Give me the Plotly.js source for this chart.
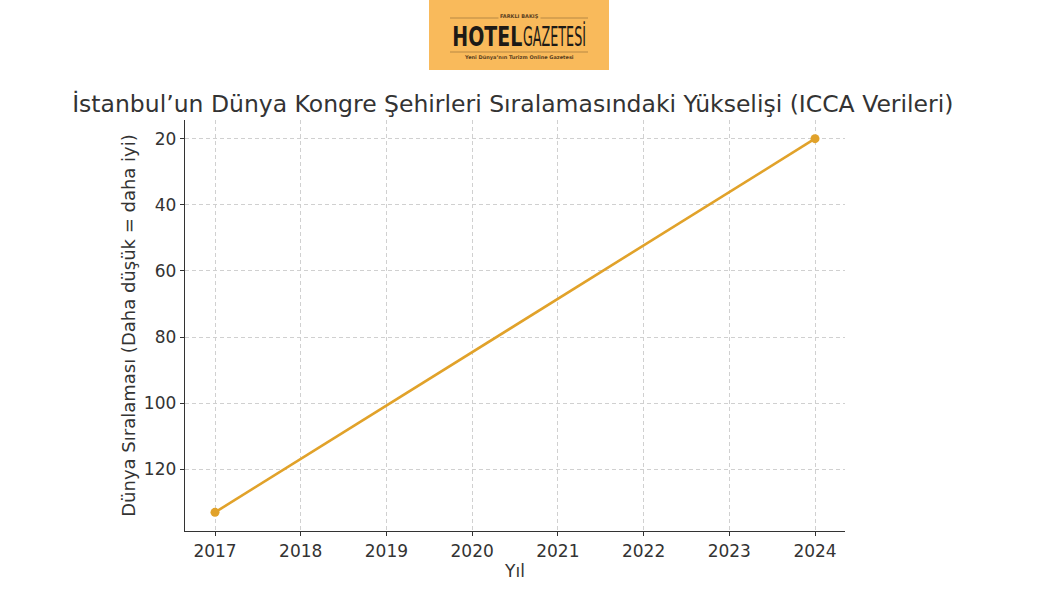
<!DOCTYPE html>
<html><head><meta charset="utf-8">
<script src="https://cdn.plot.ly/plotly-3.0.1.min.js"></script>
<style>html,body{margin:0;padding:0;background:#fff}#chart{width:1038px;height:600px}</style>
</head><body><div id="chart"></div>
<script>
const years = [2017, 2024];
const ranks = [133, 20];
const xTicks = [2017, 2018, 2019, 2020, 2021, 2022, 2023, 2024];
const yTicks = [20, 40, 60, 80, 100, 120];

const font = 'DejaVu Sans, sans-serif';
const narrow = 'Liberation Sans Narrow, DejaVu Sans Condensed, sans-serif';
const px = v => (v - 185) / 660;
const py = v => (531 - v) / 411;
const trace = {
  x: years, y: ranks, type: 'scatter', mode: 'lines+markers',
  line: {color: '#E1A22A', width: 2.6},
  marker: {color: '#E1A22A', size: 9},
  hoverinfo: 'skip'
};
const layout = {
  width: 1038, height: 600,
  margin: {l: 185, r: 193, t: 120, b: 69},
  paper_bgcolor: '#fff', plot_bgcolor: '#fff',
  showlegend: false,
  font: {family: font, color: '#333', size: 17},
  title: {text: 'İstanbul’un Dünya Kongre Şehirleri Sıralamasındaki Yükselişi (ICCA Verileri)',
    font: {family: font, size: 23.5, color: '#333'}, x: 0.494, xanchor: 'center', y: 1 - 104/600, yanchor: 'middle'},
  xaxis: {
    range: [2016.65, 2024.35], tickvals: xTicks, ticktext: xTicks.map(String),
    showgrid: true, gridcolor: '#d0d0d0', griddash: '4px,3px', gridwidth: 1,
    showline: true, linecolor: '#333', linewidth: 1.3, zeroline: false,
    ticks: 'outside', ticklen: 4, tickcolor: '#333',
    tickfont: {size: 17, color: '#333'},
    title: {text: 'Yıl', font: {size: 17, color: '#333'}, standoff: 5}
  },
  yaxis: {
    range: [138.65, 14.35], tickvals: yTicks,
    showgrid: true, gridcolor: '#d0d0d0', griddash: '4px,3px', gridwidth: 1,
    showline: true, linecolor: '#333', linewidth: 1.3, zeroline: false,
    ticks: 'outside', ticklen: 4, tickcolor: '#333',
    tickfont: {size: 17, color: '#333'},
    title: {text: 'Dünya Sıralaması (Daha düşük = daha iyi)', font: {size: 18, color: '#333'}, standoff: 3}
  },
  shapes: [
    {type: 'rect', xref: 'paper', yref: 'paper', x0: px(429), x1: px(609),
      y0: py(70), y1: py(0), fillcolor: '#F9BA5B', line: {width: 0}, layer: 'below'},
    {type: 'line', xref: 'paper', yref: 'paper', x0: px(450), x1: px(588),
      y0: py(18), y1: py(18), line: {color: '#8a6a35', width: 0.6}},
    {type: 'line', xref: 'paper', yref: 'paper', x0: px(450), x1: px(588),
      y0: py(52), y1: py(52), line: {color: '#8a6a35', width: 0.6}}
  ],
  annotations: [
    {xref: 'paper', yref: 'paper', x: px(524), y: py(37), xanchor: 'right', yanchor: 'middle', align: 'right',
      showarrow: false, text: '<b>HOTEL</b>',
      font: {family: narrow, size: 26, color: '#1d1a16'}},
    {xref: 'paper', yref: 'paper', x: px(521), y: py(37), xanchor: 'left', yanchor: 'middle', align: 'left',
      showarrow: false, text: 'GAZETESİ',
      font: {family: narrow, size: 26, color: '#1d1a16'}},
    {xref: 'paper', yref: 'paper', x: px(519), y: py(16), xanchor: 'center', yanchor: 'middle',
      showarrow: false, text: '<b>FARKLI BAKIŞ</b>', bgcolor: '#F9BA5B', borderpad: 1,
      font: {family: font, size: 5, color: '#5a4020'}},
    {xref: 'paper', yref: 'paper', x: px(519), y: py(58), xanchor: 'center', yanchor: 'middle',
      showarrow: false, text: '<b>Yeni Dünya’nın Turizm Online Gazetesi</b>',
      font: {family: font, size: 5, color: '#5a4020'}}
  ]
};
Plotly.newPlot('chart', [trace], layout, {displayModeBar: false, staticPlot: true}).then(() => {
  const fit = (i, w) => {
    const t = document.querySelector('#chart .annotation[data-index="' + i + '"] text');
    if (t) { t.setAttribute('textLength', String(w)); t.setAttribute('lengthAdjust', 'spacingAndGlyphs'); }
  };
  fit(0, 70);
  fit(1, 63);
});
</script></body></html>
